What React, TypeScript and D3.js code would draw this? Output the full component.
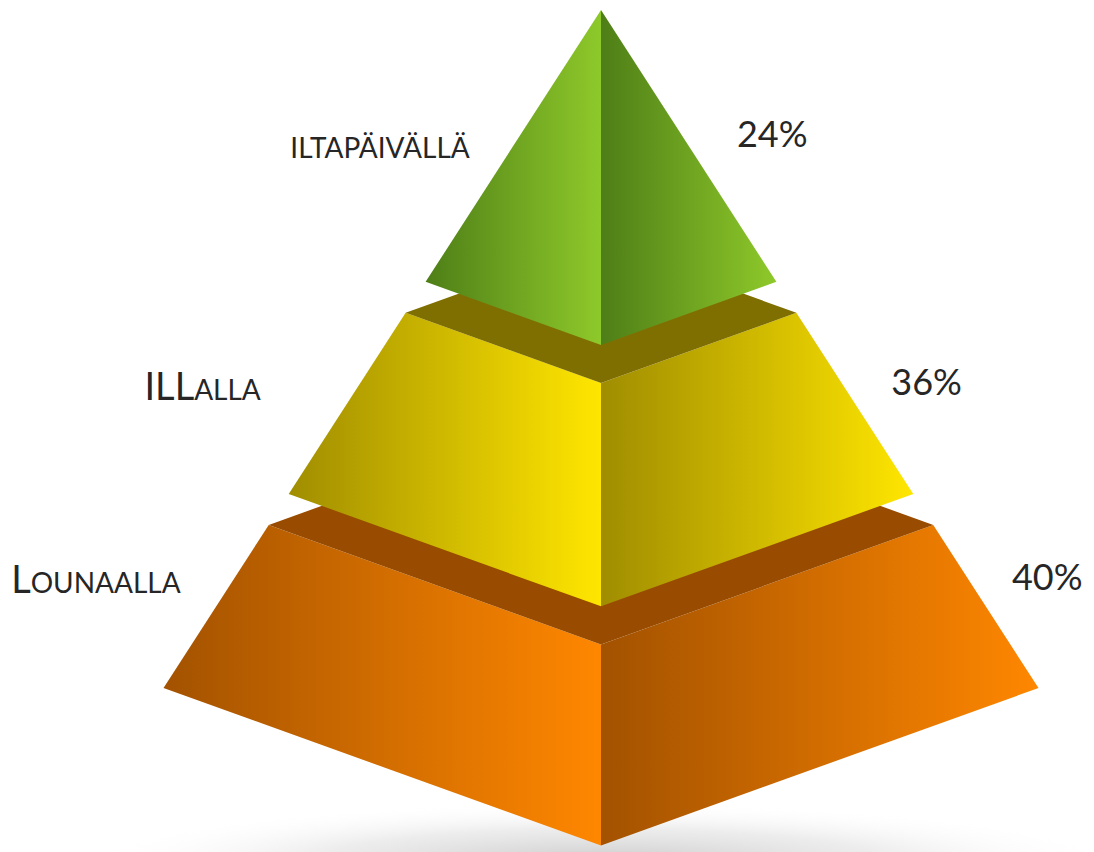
import React from 'react';
import * as d3 from 'd3';

// ---- data ----
const LABELS = ['iltapäivällä', 'ILLalla', 'Lounaalla'];
const VALUES = [24, 36, 40];
const PERCENT_LABELS = VALUES.map((v) => `${v}%`);
const DARK = ['#4e7e17', '#a08d00', '#a35200'];
const LIGHT = ['#8ec92a', '#ffe600', '#ff8700'];
const TOP = ['#6b9a1f', '#7f6f00', '#994c00'];

// ---- layout ----
const W = 1094;
const H = 852;
const CX = 601;
const APEX_Y = 10;
const BASE_Y = 688;
const BASE_HALF = 437.5;
const GAP = 31;
const DEPTH = 0.36;
const FONT = "Lato, 'Open Sans', sans-serif";
const TEXT_COLOR = '#262626';
const BIG = 38;
const SMALL = 28;

function smallCaps(label: string) {
  const parts: { t: string; s: number }[] = [];
  for (const ch of label) {
    const isUpper = ch === ch.toUpperCase() && ch !== ch.toLowerCase();
    const s = isUpper ? BIG : SMALL;
    const last = parts[parts.length - 1];
    if (last && last.s === s) last.t += ch.toUpperCase();
    else parts.push({ t: ch.toUpperCase(), s });
  }
  return parts;
}

export default function App() {
  const n = VALUES.length;
  const weights = VALUES.map((v) => 1 / v);
  const cum = [0];
  weights.forEach((w, i) => cum.push(cum[i] + w));
  const sectionTotal = BASE_Y - APEX_Y - GAP * (n - 1);
  const yScale = d3.scaleLinear().domain([0, cum[n]]).range([APEX_Y, APEX_Y + sectionTotal]);
  const wScale = d3.scaleLinear().domain([APEX_Y, BASE_Y]).range([0, BASE_HALF]);

  const sections = VALUES.map((v, i) => {
    const yt = yScale(cum[i]) + GAP * i;
    const yb = yScale(cum[i + 1]) + GAP * i;
    const wt = wScale(yt);
    const wb = wScale(yb);
    return { i, yt, yb, wt, wb, h: yb - yt };
  });

  const line = d3.line<[number, number]>();
  const poly = (pts: [number, number][]) => line(pts) + 'Z';

  return (
    <svg width={W} height={H} style={{ position: 'absolute', left: 0, top: 0 }}>
      <defs>
        {sections.map((s) => (
          <linearGradient key={s.i} id={`g${s.i}`} x1="0" x2="1" y1="0" y2="0">
            <stop offset="0" stopColor={DARK[s.i]} />
            <stop offset="1" stopColor={LIGHT[s.i]} />
          </linearGradient>
        ))}
        <radialGradient id="shadow" cx="0.5" cy="0.5" r="0.5">
          <stop offset="0" stopColor="#bdbdbd" stopOpacity={0.8} />
          <stop offset="0.55" stopColor="#d6d6d6" stopOpacity={0.45} />
          <stop offset="1" stopColor="#ffffff" stopOpacity={0} />
        </radialGradient>
      </defs>
      <rect width={W} height={H} fill="#ffffff" />
      <ellipse cx={CX} cy={H + 10} rx={520} ry={60} fill="url(#shadow)" />
      {[...sections].reverse().map((s) => {
        const { yt, yb, wt, wb } = s;
        const left = poly([
          [CX - wt, yt],
          [CX, yt + DEPTH * wt],
          [CX, yb + DEPTH * wb],
          [CX - wb, yb],
        ]);
        const right = poly([
          [CX, yt + DEPTH * wt],
          [CX + wt, yt],
          [CX + wb, yb],
          [CX, yb + DEPTH * wb],
        ]);
        const top = poly([
          [CX - wt, yt],
          [CX, yt - DEPTH * wt],
          [CX + wt, yt],
          [CX, yt + DEPTH * wt],
        ]);
        return (
          <g key={s.i}>
            <path d={left} fill={`url(#g${s.i})`} />
            <path d={right} fill={`url(#g${s.i})`} />
            {wt > 0.5 && <path d={top} fill={TOP[s.i]} />}
          </g>
        );
      })}
      {sections.map((s) => {
        const baseL = s.yt + (0.5445 - 0.064 * s.i) * s.h;
        const xL = 1.065 * (CX - s.wb) - 163;
        const baseR = s.yt + (0.504 - 0.0525 * s.i) * s.h;
        const xR = CX + wScale(baseR) + 47.6 - 5.45 * s.i;
        return (
          <g key={`t${s.i}`} fill={TEXT_COLOR} fontFamily={FONT}>
            <text x={xL} y={baseL}>
              {smallCaps(LABELS[s.i]).map((p, k) => (
                <tspan key={k} fontSize={p.s}>
                  {p.t}
                </tspan>
              ))}
            </text>
            <text x={xR} y={baseR} fontSize={36}>
              {PERCENT_LABELS[s.i]}
            </text>
          </g>
        );
      })}
    </svg>
  );
}
